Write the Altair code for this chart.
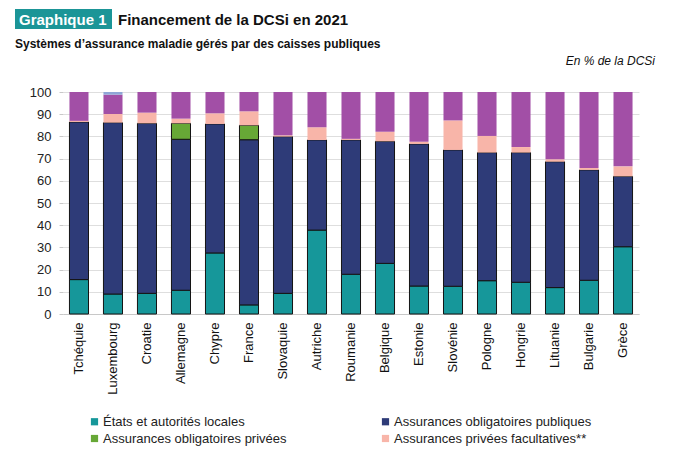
import altair as alt
import pandas as pd

countries = ["Tchéquie", "Luxembourg", "Croatie", "Allemagne", "Chypre", "France",
             "Slovaquie", "Autriche", "Roumanie", "Belgique", "Estonie", "Slovénie",
             "Pologne", "Hongrie", "Lituanie", "Bulgarie", "Grèce"]

series = ["États et autorités locales", "Assurances obligatoires publiques",
          "Assurances obligatoires privées", "Assurances privées facultatives**",
          "Ménages", "Reste du monde***"]
colors = ["#16979a", "#2e3b78", "#67a836", "#f8b5a9", "#a24fa6", "#8fa6d6"]
outlined = [True, True, True, False, False, False]
# legend is filled column by column: left column first, then right column
legend_order = [0, 2, 4, 1, 3, 5]

etats = [15.5, 9.0, 9.3, 10.7, 27.5, 4.1, 9.3, 37.8, 17.9, 22.8, 12.6, 12.5, 15.0, 14.3, 11.9, 15.2, 30.3]
obl_publiques = [71.0, 77.2, 76.6, 68.0, 58.1, 74.4, 70.6, 40.6, 60.5, 55.0, 64.0, 61.4, 57.7, 58.4, 56.7, 49.7, 31.7]
obl_privees = [0, 0, 0, 7.2, 0, 6.5, 0, 0, 0, 0, 0, 0, 0, 0, 0, 0, 0]
facultatives = [0.5, 3.9, 4.8, 2.1, 4.8, 6.3, 0.6, 5.7, 0.5, 4.3, 1.0, 13.3, 7.5, 2.5, 1.1, 0.9, 4.5]
menages = [13.0, 8.7, 9.3, 12.0, 9.6, 8.7, 19.5, 15.9, 21.1, 17.9, 22.4, 12.8, 19.8, 24.8, 30.3, 34.2, 33.5]
reste = [0, 1.2, 0, 0, 0, 0, 0, 0, 0, 0, 0, 0, 0, 0, 0, 0, 0]

values = [etats, obl_publiques, obl_privees, facultatives, menages, reste]

rows = []
for si, (s, vals) in enumerate(zip(series, values)):
    for c, v in zip(countries, vals):
        if v > 0:
            rows.append({"pays": c, "serie": s, "valeur": v, "ordre": si,
                         "contour": "#141414" if outlined[si] else "transparent"})
df = pd.DataFrame(rows)

FONT = "Liberation Sans"

bars = alt.Chart(df).mark_bar(strokeWidth=1).encode(
    x=alt.X("pays:N", sort=countries, title=None,
            scale=alt.Scale(paddingInner=0.44, paddingOuter=0.19),
            axis=alt.Axis(labelAngle=-90, labelFontSize=13, labelFont=FONT, labelColor="#111",
                          ticks=False, domainColor="#c8c8c8", labelPadding=8,
                          labelAlign="right", labelBaseline="middle")),
    y=alt.Y("valeur:Q", stack="zero", title=None,
            scale=alt.Scale(domain=[0, 100], nice=False),
            axis=alt.Axis(values=list(range(0, 101, 10)), labelFontSize=13, labelFont=FONT,
                          labelColor="#222", domain=False, tickSize=4, tickColor="#c8c8c8",
                          gridColor="#dedede", labelPadding=8)),
    color=alt.Color("serie:N",
                    scale=alt.Scale(domain=[series[i] for i in legend_order],
                                    range=[colors[i] for i in legend_order]),
                    legend=alt.Legend(title=None, orient="none", legendX=25, legendY=323,
                                      columns=2, columnPadding=92, rowPadding=3,
                                      symbolType="square", symbolSize=52, symbolStrokeWidth=0,
                                      labelFontSize=13, labelFont=FONT, labelColor="#222",
                                      labelOffset=2, labelLimit=400)),
    stroke=alt.Stroke("contour:N", scale=None),
    order=alt.Order("ordre:Q"),
)

one = pd.DataFrame({"k": [0]})

title_box = alt.Chart(one).mark_rect(color="#1b9597").encode(
    x=alt.value(-48), x2=alt.value(49), y=alt.value(-83), y2=alt.value(-63))
title_tag = alt.Chart(one).mark_text(text="Graphique 1", font=FONT, fontSize=15, fontWeight="bold",
                                     color="white", align="left", baseline="alphabetic").encode(
    x=alt.value(-44), y=alt.value(-67))
title_main = alt.Chart(one).mark_text(text="Financement de la DCSi en 2021", font=FONT, fontSize=15,
                                      fontWeight="bold", color="#111", align="left",
                                      baseline="alphabetic").encode(
    x=alt.value(55), y=alt.value(-67))
subtitle = alt.Chart(one).mark_text(text="Systèmes d’assurance maladie gérés par des caisses publiques",
                                    font=FONT, fontSize=12, fontWeight="bold", color="#111",
                                    align="left", baseline="alphabetic").encode(
    x=alt.value(-48), y=alt.value(-44))
unit = alt.Chart(one).mark_text(text="En % de la DCSi", font=FONT, fontSize=12, fontStyle="italic",
                                color="#111", align="right", baseline="alphabetic").encode(
    x=alt.value(592), y=alt.value(-27))

chart = alt.layer(bars, title_box, title_tag, title_main, subtitle, unit).properties(
    width=576, height=222,
    autosize=alt.AutoSizeParams(type="none"),
    padding={"left": 55, "top": 84, "right": 53, "bottom": 150},
).configure_view(stroke=None)

chart.save("out.html", embed_options={"renderer": "svg", "actions": False})
